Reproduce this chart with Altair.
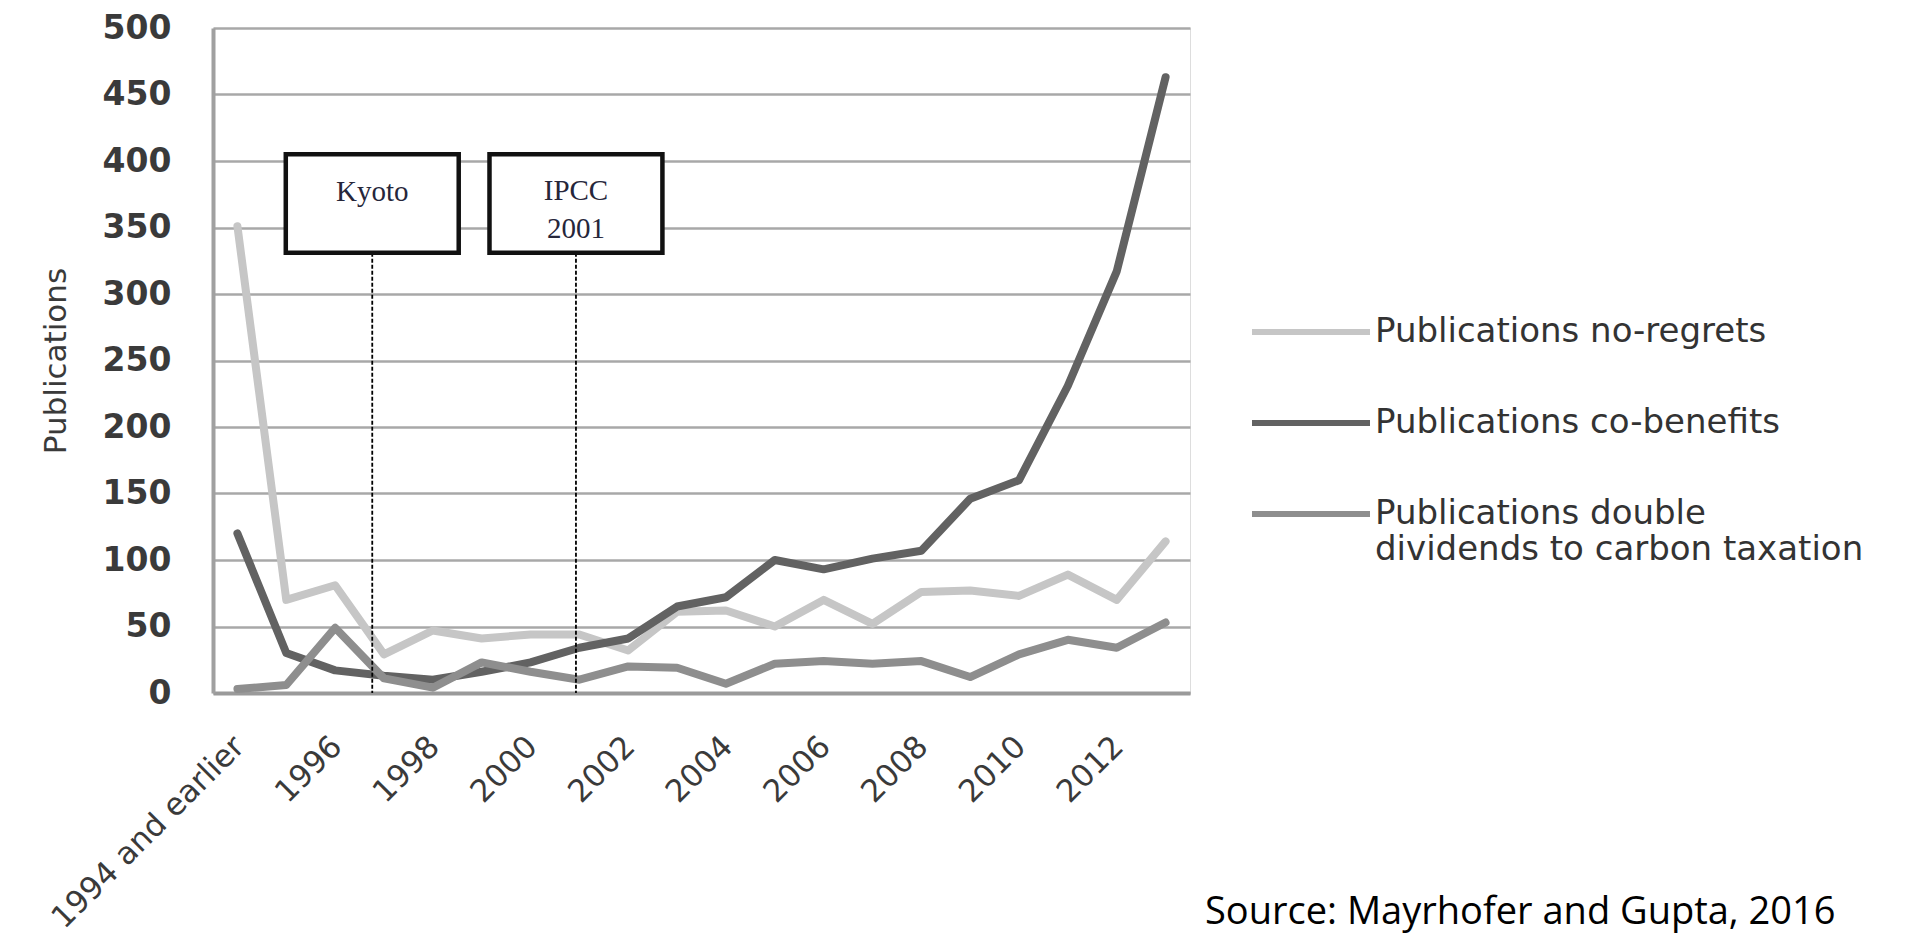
import json
import altair as alt
import pandas as pd

# ---- data ----
categories = ["1994 and earlier", "1995", "1996", "1997", "1998", "1999", "2000",
              "2001", "2002", "2003", "2004", "2005", "2006", "2007", "2008",
              "2009", "2010", "2011", "2012", "2013"]
no_regrets = [351, 70, 81, 29, 47, 41, 44, 44, 32, 61, 62, 50, 70, 52, 76, 77, 73, 89, 70, 114]
co_benefits = [120, 30, 17, 13, 10, 16, 23, 34, 41, 65, 72, 100, 93, 101, 107, 146, 160, 231, 317, 463]
double_dividends = [3, 6, 49, 11, 4, 23, 16, 10, 20, 19, 7, 22, 24, 22, 24, 12, 29, 40, 34, 53]

series_names = ["Publications no-regrets",
                "Publications co-benefits",
                "Publications double dividends to carbon taxation"]
series_values = [no_regrets, co_benefits, double_dividends]
series_colors = ["#c6c6c6", "#626262", "#8e8e8e"]

# annotation events (x position in category index units, box range in publication units)
events = ["Kyoto", "IPCC\n2001"]
event_pos = [2.76, 6.93]
box_bottom = [331, 331]
box_top = [405, 405]
text_y = [370, 371]

source_text = "Source: Mayrhofer and Gupta, 2016"

rows = []
for name, vals in zip(series_names, series_values):
    for i, v in enumerate(vals):
        rows.append({"idx": i, "value": v, "series": name, "order": series_names.index(name)})
df = pd.DataFrame(rows)

ann = pd.DataFrame({"event": events, "pos": event_pos, "bottom": box_bottom,
                    "top": box_top, "ty": text_y})

xscale = alt.Scale(domain=[-0.5, len(categories) - 0.5], nice=False, zero=False)
yscale = alt.Scale(domain=[0, 500], nice=False)

label_expr = json.dumps(categories) + "[datum.value]"

x_axis = alt.Axis(values=list(range(0, len(categories) - 1, 2)), labelExpr=label_expr,
                  labelAngle=-45, labelAlign="right", labelBaseline="top",
                  labelFont="DejaVu Sans", labelFontSize=31, labelColor="#3a3a3a",
                  labelPadding=38, labelOffset=-9, labelLimit=0, ticks=False,
                  grid=False, domain=True, domainColor="#9a9a9a", domainWidth=4,
                  title=None, labelOverlap=False)
y_axis = alt.Axis(values=list(range(0, 501, 50)), labelFont="DejaVu Sans",
                  labelFontSize=33, labelFontWeight="bold", labelColor="#3a3a3a",
                  labelPadding=42, ticks=False, grid=True, gridColor="#a8a8a8",
                  gridWidth=2.5, domain=True, domainColor="#a0a0a0", domainWidth=4,
                  title="Publications", titleFont="DejaVu Sans", titleFontSize=31,
                  titleFontWeight="normal", titleColor="#3a3a3a", titlePadding=30)

legend_expr = ("datum.label == 'Publications double dividends to carbon taxation' ? "
               "['Publications double', 'dividends to carbon taxation'] : datum.label")

lines = alt.Chart(df).mark_line(strokeWidth=8, strokeCap="round", strokeJoin="round").encode(
    x=alt.X("idx:Q", scale=xscale, axis=x_axis),
    y=alt.Y("value:Q", scale=yscale, axis=y_axis),
    color=alt.Color("series:N",
                    scale=alt.Scale(domain=series_names, range=series_colors),
                    legend=alt.Legend(orient="none", legendX=1036, legendY=242,
                                      title=None, symbolType="stroke",
                                      symbolSize=13924, symbolStrokeWidth=6,
                                      labelFont="DejaVu Sans", labelFontSize=34,
                                      labelColor="#333333", labelOffset=2,
                                      labelLimit=0, rowPadding=12, padding=0,
                                      labelExpr=legend_expr)),
    order=alt.Order("order:Q"),
)

base_ann = alt.Chart(ann).transform_calculate(
    lo="datum.pos - 1.77", hi="datum.pos + 1.77", zero="0"
)

dashes = base_ann.mark_rule(color="black", strokeWidth=1.8, strokeDash=[4, 2]).encode(
    x=alt.X("pos:Q", scale=xscale),
    y=alt.Y("bottom:Q", scale=yscale),
    y2="zero:Q",
)

boxes = base_ann.mark_rect(fill="white", stroke="#111111", strokeWidth=4.5).encode(
    x=alt.X("lo:Q", scale=xscale),
    x2="hi:Q",
    y=alt.Y("bottom:Q", scale=yscale),
    y2="top:Q",
)

texts = base_ann.mark_text(font="Liberation Serif", fontSize=29, color="#26263a",
                           baseline="alphabetic", lineBreak="\n", lineHeight=38).encode(
    x=alt.X("pos:Q", scale=xscale),
    y=alt.Y("ty:Q", scale=yscale),
    text="event:N",
)

chart = alt.layer(lines, dashes, boxes, texts).properties(
    width=977, height=665,
    title=alt.TitleParams(text=source_text, orient="bottom", anchor="start",
                          frame="group", font="Open Sans", fontSize=38,
                          fontWeight="normal", color="#000000", dx=992, dy=-44),
    autosize=alt.AutoSizeParams(type="none"),
    padding={"left": 205, "top": 20, "right": 721, "bottom": 241},
).configure_view(stroke=None).configure(background="white")

chart.save("out.html", embed_options={"renderer": "svg", "actions": False})
